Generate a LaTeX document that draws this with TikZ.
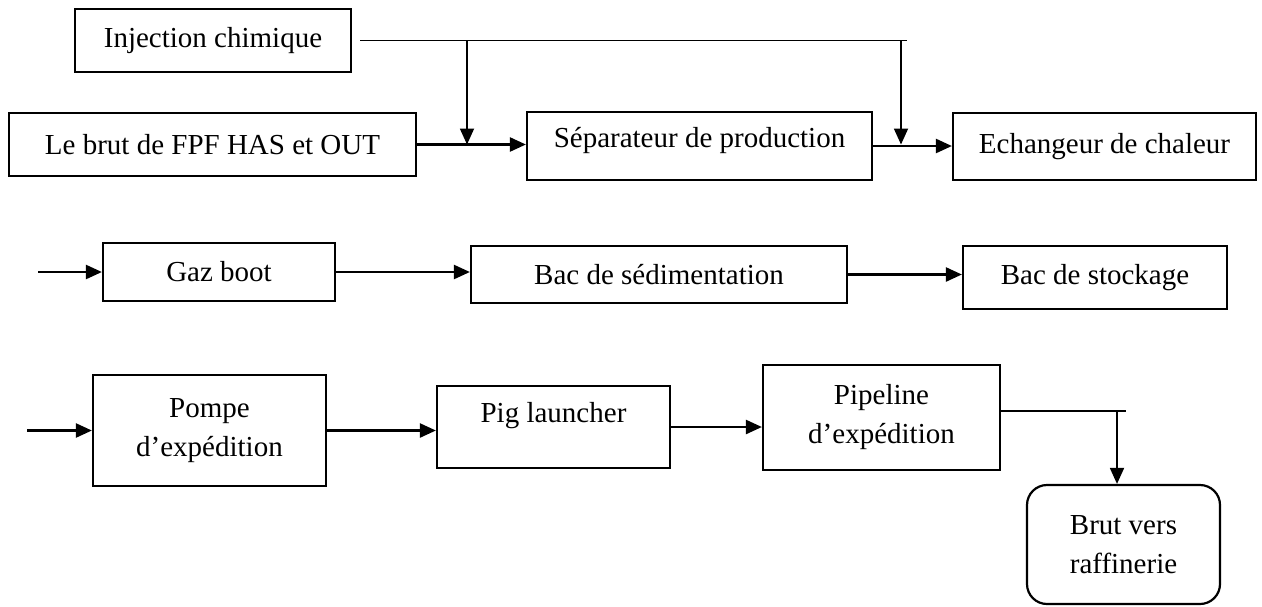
\documentclass[tikz,border=0pt]{standalone}
\usepackage{fontspec}
\setmainfont{Liberation Serif}
\usetikzlibrary{arrows.meta,positioning,calc}

\begin{document}
\begin{tikzpicture}[x=0.5pt, y=-0.5pt, every node/.style={font=\fontsize{14.5pt}{19.5pt}\selectfont}]
\tikzset{box/.style={draw, line width=1.1pt, align=center, inner sep=2pt}}
\tikzset{arrow/.style={-{Triangle[length=8pt,width=7pt]}, line width=1.2pt}}
\tikzset{feed/.style={line width=0.6pt}}
\useasboundingbox (0,0) rectangle (1262,606);
% first row
\node[box, minimum width=138pt, minimum height=31.5pt] (inj) at (213,40.5) {Injection chimique};
\node[box, minimum width=203.5pt, minimum height=31.5pt] (brut) at (212.5,144.5) {Le brut de FPF HAS et OUT};
\node[box, minimum width=172.5pt, minimum height=34pt, text depth=9pt] (sep) at (699.5,146) {Séparateur de production};
\node[box, minimum width=151.5pt, minimum height=33.5pt] (ech) at (1104.5,146.5) {Echangeur de chaleur};
\coordinate (top) at (907,44);
\coordinate (j1) at (467,144.5);
\coordinate (j2) at (901,144.5);
\draw[feed] ([xshift=4pt]inj.east) -- (inj.east -| top);
\draw[arrow] (brut.east) -- (brut.east -| sep.west);
\draw[arrow] (sep.east) -- (sep.east -| ech.west);
\draw[arrow, line width=0.9pt] (j1 |- inj.east) -- (j1);
\draw[arrow, line width=0.9pt] (j2 |- inj.east) -- (j2);
% second row
\node[box, minimum width=116pt, minimum height=29pt] (gaz) at (219,272) {Gaz boot};
\node[box, minimum width=188pt, minimum height=28.5pt] (sed) at (659,274.5) {Bac de sédimentation};
\node[box, minimum width=132pt, minimum height=31.5pt] (stock) at (1095,277.5) {Bac de stockage};
\coordinate (in2) at (38,272);
\draw[arrow] (in2) -- (gaz.west);
\draw[arrow] (gaz.east) -- (gaz.east -| sed.west);
\draw[arrow] (sed.east) -- (sed.east -| stock.west);
% third row
\node[box, minimum width=116.5pt, minimum height=55.5pt] (pompe) at (209.5,430.5) {Pompe\\d’expédition};
\node[box, minimum width=116.5pt, minimum height=41pt, text depth=15pt] (pig) at (553.5,427) {Pig launcher};
\node[box, minimum width=118.5pt, minimum height=52.5pt] (pipe) at (881.5,417.5) {Pipeline\\d’expédition};
\node[box, rounded corners=10pt, minimum width=96.5pt, minimum height=59.5pt] (raff) at (1123.5,544.5) {Brut vers\\raffinerie};
\coordinate (in3) at (27,430.5);
\coordinate (out) at (1126,411);
\coordinate (drop) at (1117,411);
\draw[arrow] (in3) -- (pompe.west);
\draw[arrow] (pompe.east) -- (pompe.east -| pig.west);
\draw[arrow] (pig.east) -- (pig.east -| pipe.west);
\draw[feed] (pipe.east |- out) -- (out);
\draw[arrow, line width=0.9pt] (drop) -- (drop |- raff.north);
\end{tikzpicture}
\end{document}
